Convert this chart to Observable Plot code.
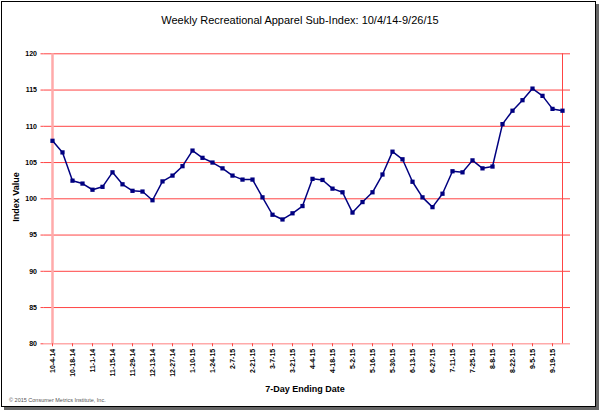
<!DOCTYPE html>
<html><head><meta charset="utf-8">
<script src="https://cdn.jsdelivr.net/npm/d3@7"></script>
<script src="https://cdn.jsdelivr.net/npm/@observablehq/plot@0.6"></script>
<style>
body{margin:0;background:#fff;font-family:"Liberation Sans",Arial,sans-serif;}
#wrap{position:relative;width:602px;height:411px;overflow:hidden;background:#fff;}
#frame{position:absolute;left:1px;top:1px;width:593px;height:404px;border:1px solid #000;box-shadow:3px 3px 0 #666;background:#fff;}
#title{position:absolute;top:14px;left:0;width:600px;text-align:center;font-size:11px;color:#000;}
#plot{position:absolute;left:0;top:0;}
#ylab{position:absolute;left:16px;top:197px;transform:translate(-50%,-50%) rotate(-90deg);font-size:9px;font-weight:bold;white-space:nowrap;}
#xlab{position:absolute;top:384px;left:255px;width:100px;text-align:center;font-size:9px;font-weight:bold;white-space:nowrap;}
#copy{position:absolute;left:9px;top:397px;font-size:5.5px;color:#555;white-space:nowrap;}
</style></head>
<body>
<div id="wrap">
<div id="frame"></div>
<div id="plot"></div>
<div id="title">Weekly Recreational Apparel Sub-Index: 10/4/14-9/26/15</div>
<div id="ylab">Index Value</div>
<div id="xlab">7-Day Ending Date</div>
<div id="copy">© 2015 Consumer Metrics Institute, Inc.</div>
</div>
<script>
const weeks = ["10-4-14","10-11-14","10-18-14","10-25-14","11-1-14","11-8-14","11-15-14","11-22-14","11-29-14","12-6-14","12-13-14","12-20-14","12-27-14",
"1-3-15","1-10-15","1-17-15","1-24-15","1-31-15","2-7-15","2-14-15","2-21-15","2-28-15","3-7-15","3-14-15","3-21-15","3-28-15",
"4-4-15","4-11-15","4-18-15","4-25-15","5-2-15","5-9-15","5-16-15","5-23-15","5-30-15","6-6-15","6-13-15","6-20-15","6-27-15",
"7-4-15","7-11-15","7-18-15","7-25-15","8-1-15","8-8-15","8-15-15","8-22-15","8-29-15","9-5-15","9-12-15","9-19-15","9-26-15"];
const values = [108.0,106.4,102.5,102.1,101.25,101.65,103.65,102.0,101.1,101.0,99.8,102.4,103.2,
104.5,106.65,105.65,105.0,104.2,103.2,102.65,102.65,100.2,97.8,97.15,98.0,99.0,
102.75,102.6,101.4,100.9,98.1,99.55,100.9,103.35,106.5,105.45,102.35,100.2,98.85,
100.7,103.8,103.65,105.3,104.2,104.45,110.3,112.15,113.6,115.2,114.2,112.4,112.15];
const xTickLabels = ["10-4-14","10-18-14","11-1-14","11-15-14","11-29-14","12-13-14","12-27-14","1-10-15","1-24-15","2-7-15","2-21-15","3-7-15","3-21-15","4-4-15","4-18-15","5-2-15","5-16-15","5-30-15","6-13-15","6-27-15","7-11-15","7-25-15","8-8-15","8-22-15","9-5-15","9-19-15"];
const yTickLabels = [80,85,90,95,100,105,110,115,120];

const data = weeks.map((w,i)=>({week:w, value:values[i]}));
const red = "#ff4444";
const chart = Plot.plot({
  width: 602, height: 411,
  marginLeft: 43.5, marginRight: 32, marginTop: 53.3, marginBottom: 67.7,
  style: {background: "transparent", fontFamily: "'Liberation Sans', Arial, sans-serif"},
  x: {type: "point", domain: weeks, padding: 0},
  y: {domain: [80, 120]},
  marks: [
    Plot.ruleY(yTickLabels.filter(v => v > 80), {stroke: red, strokeWidth: 1}),
    Plot.ruleY([80], {stroke: "#ffaaaa", strokeWidth: 1.5}),
    Plot.ruleX([weeks[weeks.length-1]], {stroke: red, strokeWidth: 1}),
    Plot.ruleX([weeks[0]], {stroke: "#ffaaaa", strokeWidth: 2.5}),
    Plot.axisY({ticks: yTickLabels, tickSize: 3, tickPadding: 4, stroke: red, fill: "#000", fontSize: 7, fontWeight: "bold", label: null}),
    Plot.axisX({ticks: xTickLabels, tickSize: 3, tickPadding: 2, tickRotate: -90, stroke: red, fill: "#000", fontSize: 7, fontWeight: "bold", label: null}),
    Plot.line(data, {x: "week", y: "value", stroke: "#000080", strokeWidth: 1.5}),
    Plot.dot(data, {x: "week", y: "value", symbol: "square", r: 2.4, fill: "#000080", stroke: "none"})
  ]
});
document.getElementById("plot").appendChild(chart);
</script>
</body></html>
